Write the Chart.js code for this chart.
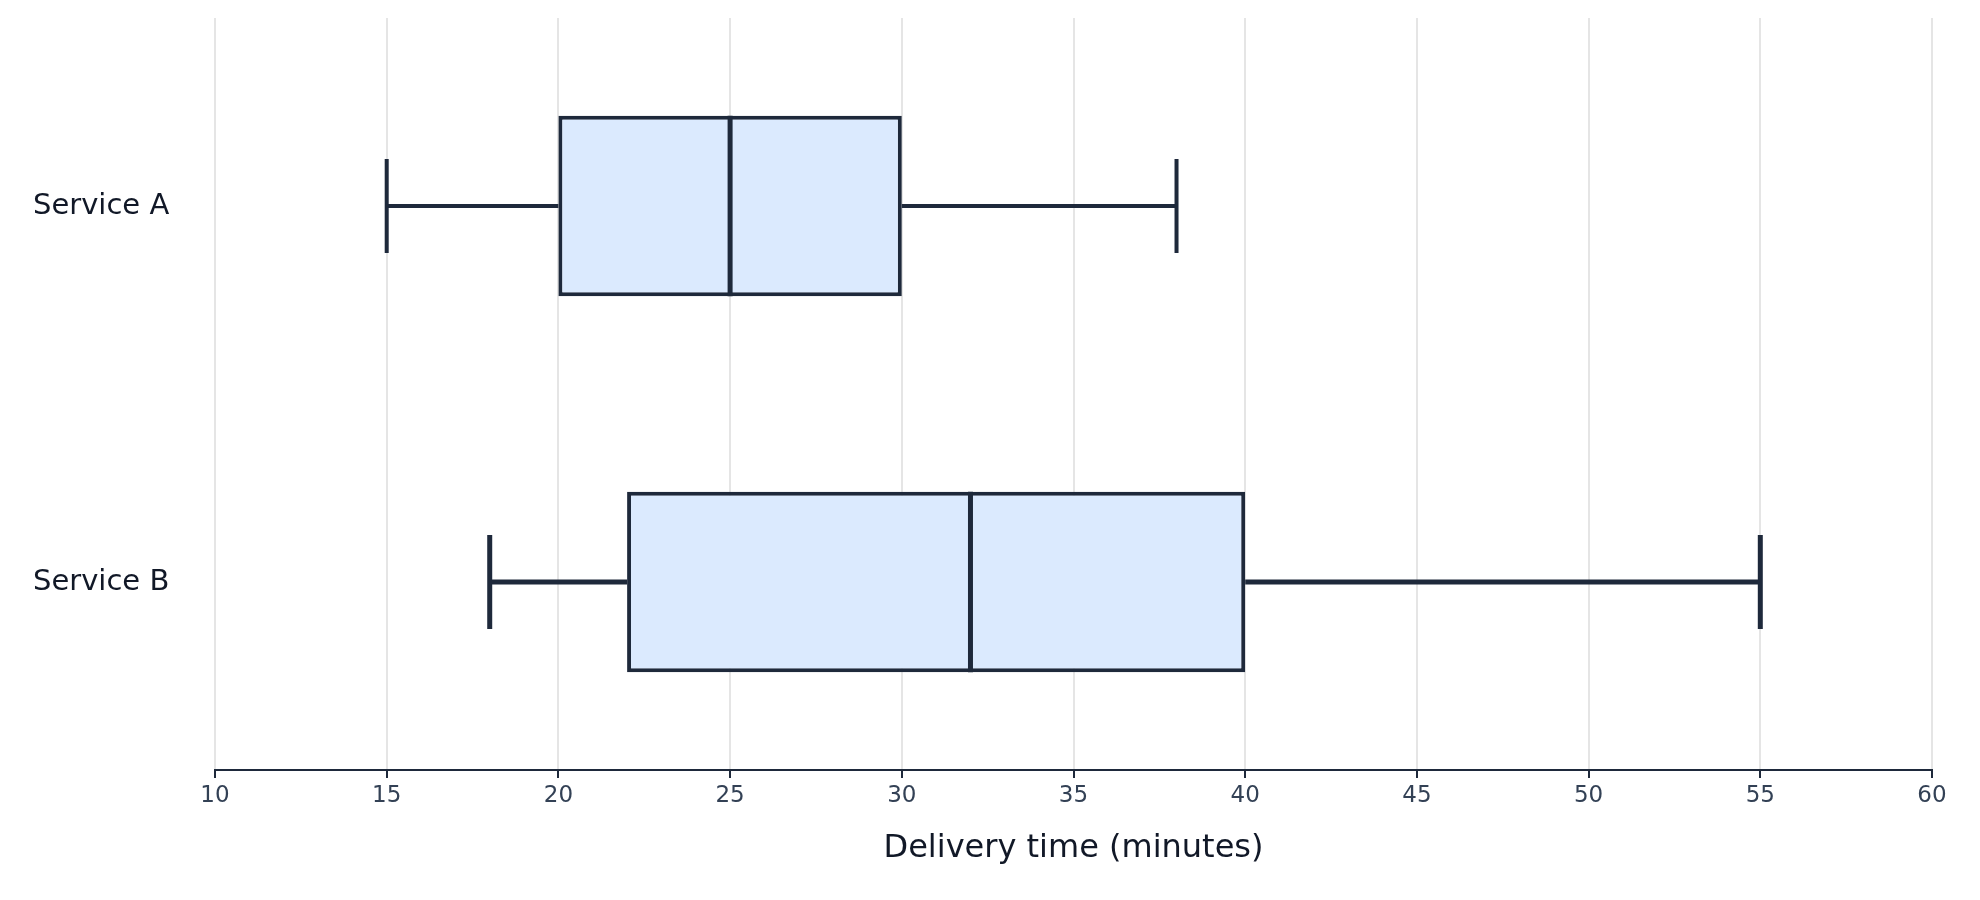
<!DOCTYPE html><html><head><script src="https://cdn.jsdelivr.net/npm/chart.js@4"></script>
<style>body{margin:0;background:#fff}#w{width:1980px;height:900px}</style></head><body><div id="w"><canvas id="c"></canvas></div>
<script>
const categories=["Service A","Service B"];
const mins=[15,18];
const q1s=[20,22];
const medians=[25,32];
const q3s=[30,40];
const maxs=[38,55];
const xTicks=[10,15,20,25,30,35,40,45,50,55,60];
const dark="#1e293b";
const whisk={id:"whisk",afterDatasetsDraw(ch){const x=ch.scales.x,y=ch.scales.y,c=ch.ctx;const meta=ch.getDatasetMeta(0);
c.save();c.strokeStyle=dark;c.lineWidth=4;
categories.forEach((k,i)=>{const yc=y.getPixelForValue(i);const h=meta.data[i].height;const cap=h*0.26;
c.beginPath();c.moveTo(x.getPixelForValue(mins[i]),yc);c.lineTo(x.getPixelForValue(q1s[i]),yc);
c.moveTo(x.getPixelForValue(q3s[i]),yc);c.lineTo(x.getPixelForValue(maxs[i]),yc);
c.moveTo(x.getPixelForValue(mins[i]),yc-cap);c.lineTo(x.getPixelForValue(mins[i]),yc+cap);
c.moveTo(x.getPixelForValue(maxs[i]),yc-cap);c.lineTo(x.getPixelForValue(maxs[i]),yc+cap);c.stroke();
c.lineWidth=5;c.beginPath();const m=x.getPixelForValue(medians[i]);c.moveTo(m,yc-h/2);c.lineTo(m,yc+h/2);c.stroke();});
c.restore();}};
new Chart(document.getElementById("c"),{type:"bar",data:{labels:categories,datasets:[{data:categories.map((k,i)=>[q1s[i],q3s[i]]),backgroundColor:"#dbeafe",borderColor:dark,borderWidth:4,borderSkipped:false,barPercentage:0.48,categoryPercentage:1}]},
options:{indexAxis:"y",responsive:true,maintainAspectRatio:false,animation:false,layout:{padding:{left:33,right:48,top:18,bottom:28}},
plugins:{legend:{display:false},tooltip:{enabled:false}},
scales:{x:{min:10,max:60,afterBuildTicks(a){a.ticks=xTicks.map(v=>({value:v}));},grid:{color:"#e5e5e5",lineWidth:2,drawTicks:true,tickLength:8,tickColor:dark},border:{color:dark,width:2},ticks:{color:"#334155",font:{family:"DejaVu Sans",size:23},padding:4},
title:{display:true,text:"Delivery time (minutes)",color:"#111827",font:{family:"DejaVu Sans",size:32},padding:{top:16}}},
y:{afterFit(s){s.width=182;},grid:{display:false},border:{display:false},ticks:{color:"#111827",font:{family:"DejaVu Sans",size:29},padding:0,crossAlign:"far"}}}},plugins:[whisk]});
</script></body></html>
